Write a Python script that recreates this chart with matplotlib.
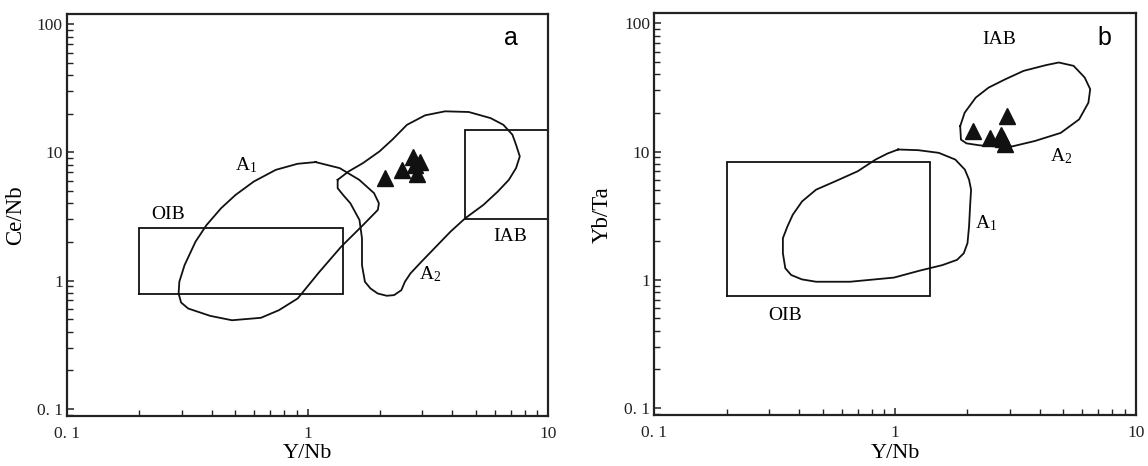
import matplotlib
matplotlib.use("Agg")
import matplotlib.pyplot as plt
from matplotlib.ticker import FixedLocator, FixedFormatter, LogLocator, NullFormatter

plt.rcParams['font.family'] = ['Liberation Serif', 'DejaVu Serif']
plt.rcParams['mathtext.fontset'] = 'custom'
plt.rcParams['mathtext.rm'] = 'Liberation Serif'
plt.rcParams['mathtext.it'] = 'Liberation Serif:italic'

# ---------------- data ----------------
sample_y_nb = [2.10, 2.48, 2.75, 2.93, 2.85, 2.80]
sample_ce_nb = [6.3, 7.3, 9.2, 8.4, 6.8, 8.0]
sample_yb_ta = [14.4, 12.8, 13.6, 18.9, 11.4, 12.6]

# panel a fields
a_oib_x = [0.2, 1.4]
a_oib_y = [0.78, 2.55]
a_iab_x = [4.5, 10.0]
a_iab_y = [3.0, 15.0]
a_A1_x = [1.08, 1.36, 1.64, 1.89, 1.98, 1.96, 1.70, 1.38, 1.12, 0.91, 0.76, 0.64,
          0.485, 0.394, 0.319, 0.298, 0.291, 0.293, 0.308, 0.342, 0.38, 0.437,
          0.502, 0.598, 0.738, 0.909]
a_A1_y = [8.40, 7.54, 6.11, 4.81, 4.01, 3.56, 2.71, 1.84, 1.17, 0.726, 0.588, 0.513,
          0.491, 0.531, 0.606, 0.675, 0.794, 0.98, 1.32, 2.01, 2.71, 3.67,
          4.66, 5.93, 7.31, 8.15]
a_A2_x = [1.334, 1.481, 1.70, 1.99, 2.25, 2.59, 3.08, 3.73, 4.68, 5.77, 6.52, 7.11,
          7.36, 7.63, 7.36, 6.87, 6.18, 5.38, 4.52, 3.93, 3.42, 2.97, 2.68, 2.54,
          2.455, 2.29, 2.135, 1.957, 1.826, 1.732, 1.684, 1.684, 1.644, 1.507,
          1.405, 1.334]
a_A2_y = [6.11, 7.10, 8.25, 10.17, 12.55, 16.4, 19.45, 20.9, 20.65, 18.5, 16.4, 13.73,
          11.47, 9.3, 7.54, 6.11, 4.95, 3.89, 3.06, 2.41, 1.84, 1.40, 1.14, 0.98,
          0.843, 0.771, 0.762, 0.794, 0.869, 0.98, 1.32, 2.14, 2.97, 4.01,
          4.66, 5.26]

# panel b fields
b_oib_x = [0.2, 1.4]
b_oib_y = [0.75, 8.3]
b_A1_x = [1.03, 1.25, 1.52, 1.78, 1.95, 2.03, 2.07, 2.05, 2.03, 2.00, 1.93, 1.81,
          1.57, 1.27, 0.99, 0.65, 0.47, 0.41, 0.37, 0.35, 0.342, 0.342, 0.357,
          0.376, 0.411, 0.47, 0.565, 0.70, 0.83, 0.93]
b_A1_y = [10.39, 10.26, 9.78, 8.67, 7.24, 6.04, 5.05, 3.74, 2.60, 1.93, 1.61, 1.43,
          1.30, 1.18, 1.04, 0.965, 0.965, 1.007, 1.09, 1.23, 1.61, 2.11, 2.60,
          3.22, 4.09, 5.05, 5.87, 7.03, 8.67, 9.66]
b_A2_x = [1.865, 1.946, 2.164, 2.448, 2.871, 3.424, 4.236, 4.79, 5.52, 6.135, 6.47,
          6.36, 5.82, 4.88, 3.81, 3.08, 2.582, 2.242, 1.981, 1.879]
b_A2_y = [15.8, 20.1, 26.4, 31.6, 36.7, 42.7, 47.3, 49.6, 46.7, 37.9, 30.7,
          24.1, 17.85, 14.0, 12.1, 11.0, 11.0, 11.2, 11.6, 12.4]

x_ticks = [0.1, 1, 10]
x_ticklabels = ["0. 1", "1", "10"]
y_ticks = [0.1, 1, 10, 100]
y_ticklabels = ["0. 1", "1", "10", "100"]

XLIM = (0.1, 10)
YLIM = (0.088, 120)

fig = plt.figure(figsize=(11.48, 4.66), dpi=100)
axa = fig.add_axes([0.0584, 0.1073, 0.419, 0.8627])
axb = fig.add_axes([0.570, 0.1094, 0.4193, 0.862])

LW = 1.3


def style(ax, ylabel):
    ax.set_xscale('log')
    ax.set_yscale('log')
    ax.set_xlim(*XLIM)
    ax.set_ylim(*YLIM)
    ax.xaxis.set_major_locator(FixedLocator(x_ticks))
    ax.xaxis.set_major_formatter(FixedFormatter(x_ticklabels))
    ax.yaxis.set_major_locator(FixedLocator(y_ticks))
    ax.yaxis.set_major_formatter(FixedFormatter(y_ticklabels))
    ax.xaxis.set_minor_locator(LogLocator(base=10, subs=range(2, 10)))
    ax.yaxis.set_minor_locator(LogLocator(base=10, subs=range(2, 10)))
    ax.xaxis.set_minor_formatter(NullFormatter())
    ax.yaxis.set_minor_formatter(NullFormatter())
    ax.tick_params(which='both', direction='in', top=False, right=False,
                   colors='#222222', labelcolor='#222222', labelsize=12.5)
    ax.tick_params(which='major', length=5, width=1.1)
    ax.tick_params(which='minor', length=4, width=1.0)
    ax.tick_params(axis='y', pad=3)
    ax.tick_params(axis='x', pad=7)
    for s in ax.spines.values():
        s.set_linewidth(1.6)
        s.set_color('#222222')
    ax.set_xlabel("Y/Nb", fontsize=16, labelpad=2)
    ax.set_ylabel(ylabel, fontsize=16.5, labelpad=8)


def box(ax, xs, ys):
    ax.plot([xs[0], xs[1], xs[1], xs[0], xs[0]],
            [ys[0], ys[0], ys[1], ys[1], ys[0]], color='#111111', lw=LW,
            solid_joinstyle='miter')


def closed(ax, xs, ys):
    ax.plot(list(xs) + [xs[0]], list(ys) + [ys[0]], color='#111111', lw=LW)


# ---- panel a ----
style(axa, "Ce/Nb")
box(axa, a_oib_x, a_oib_y)
box(axa, a_iab_x, a_iab_y)
closed(axa, a_A1_x, a_A1_y)
closed(axa, a_A2_x, a_A2_y)
axa.plot(sample_y_nb, sample_ce_nb, linestyle='none', marker='^', ms=11.5,
         color='#111111', clip_on=False)
axa.text(0.262, 3.29, "OIB", fontsize=14, ha='center', va='center')
axa.text(6.98, 2.2, "IAB", fontsize=14, ha='center', va='center')
axa.text(0.558, 8.0, r"A$_\mathrm{1}$", fontsize=14, ha='center', va='center')
axa.text(3.24, 1.12, r"A$_\mathrm{2}$", fontsize=14, ha='center', va='center')
axa.text(6.98, 78, "a", fontsize=18, ha='center', va='center',
         family=['Liberation Sans', 'DejaVu Sans'])

# ---- panel b ----
style(axb, "Yb/Ta")
box(axb, b_oib_x, b_oib_y)
closed(axb, b_A1_x, b_A1_y)
closed(axb, b_A2_x, b_A2_y)
axb.plot(sample_y_nb, sample_yb_ta, linestyle='none', marker='^', ms=11.5,
         color='#111111', clip_on=False)
axb.text(0.348, 0.529, "OIB", fontsize=14, ha='center', va='center')
axb.text(2.72, 75.6, "IAB", fontsize=14, ha='center', va='center')
axb.text(2.40, 2.77, r"A$_\mathrm{1}$", fontsize=14, ha='center', va='center')
axb.text(4.88, 9.2, r"A$_\mathrm{2}$", fontsize=14, ha='center', va='center')
axb.text(7.4, 76.5, "b", fontsize=18, ha='center', va='center',
         family=['Liberation Sans', 'DejaVu Sans'])

fig.savefig("out.png", dpi=100)
